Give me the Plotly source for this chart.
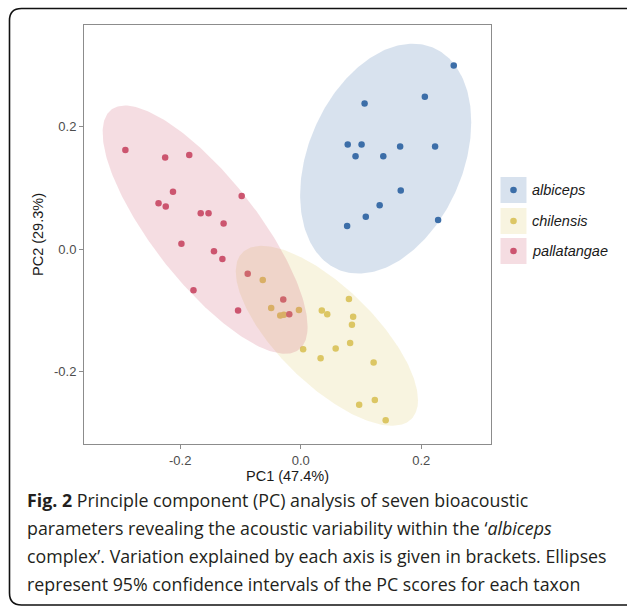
import numpy as np
import plotly.graph_objects as go

# ---------------- data ----------------
SPECIES = ["albiceps", "chilensis", "pallatangae"]
COLORS = ["#3C6EA8", "#DCC665", "#CC5570"]

ALBICEPS_PC1 = [0.254, 0.206, 0.106, 0.078, 0.101, 0.091, 0.137, 0.165, 0.223, 0.166, 0.131, 0.108, 0.077, 0.228]
ALBICEPS_PC2 = [0.300, 0.249, 0.238, 0.171, 0.171, 0.152, 0.152, 0.168, 0.168, 0.096, 0.072, 0.053, 0.038, 0.048]

CHILENSIS_PC1 = [-0.063, -0.049, -0.034, -0.028, -0.003, 0.004, 0.035, 0.044, 0.080, 0.087, 0.085, 0.082, 0.058, 0.033, 0.121, 0.123, 0.097, 0.141]
CHILENSIS_PC2 = [-0.050, -0.096, -0.108, -0.107, -0.099, -0.163, -0.100, -0.106, -0.081, -0.110, -0.123, -0.153, -0.162, -0.178, -0.185, -0.246, -0.254, -0.279]

PALLATANGAE_PC1 = [-0.291, -0.225, -0.185, -0.212, -0.236, -0.224, -0.098, -0.166, -0.153, -0.128, -0.198, -0.144, -0.130, -0.088, -0.178, -0.029, -0.104, -0.019]
PALLATANGAE_PC2 = [0.162, 0.150, 0.154, 0.094, 0.075, 0.070, 0.087, 0.059, 0.059, 0.042, 0.009, -0.003, -0.016, -0.040, -0.067, -0.082, -0.100, -0.106]

# 95% ellipses: centre and shape matrix
ELLIPSE_CX = [0.141, 0.0434, -0.1587]
ELLIPSE_CY = [0.148, -0.1413, 0.032]
ELLIPSE_SXX = [0.02016, 0.02286, 0.02893]
ELLIPSE_SYY = [0.03523, 0.02158, 0.04108]
ELLIPSE_SXY = [0.00845, -0.01588, -0.02694]

X_TICKS = [-0.2, 0.0, 0.2]
Y_TICKS = [-0.2, 0.0, 0.2]
X_TICK_TEXT = ["-0.2", "0.0", "0.2"]
Y_TICK_TEXT = ["-0.2", "0.0", "0.2"]
X_TITLE = "PC1 (47.4%)"
Y_TITLE = "PC2 (29.3%)"

CAPTION = [
    "<b>Fig. 2</b> Principle component (PC) analysis of seven bioacoustic",
    "parameters revealing the acoustic variability within the \u2018<i>albiceps</i>",
    "complex\u2019. Variation explained by each axis is given in brackets. Ellipses",
    "represent 95% confidence intervals of the PC scores for each taxon",
]

# ---------------- layout geometry ----------------
W, H = 627, 607
PL, PR, PT, PB = 84, 491, 25, 444  # panel edges in px
FONT = "Liberation Sans, Arial, sans-serif"


def pxx(px):
    return (px - PL) / (PR - PL)


def pxy(py):
    return (PB - py) / (PB - PT)


def rgba(hexc, a):
    h = hexc.lstrip("#")
    r, g, b = int(h[0:2], 16), int(h[2:4], 16), int(h[4:6], 16)
    return f"rgba({r},{g},{b},{a})"


fig = go.Figure()

pcs = [(ALBICEPS_PC1, ALBICEPS_PC2), (CHILENSIS_PC1, CHILENSIS_PC2), (PALLATANGAE_PC1, PALLATANGAE_PC2)]

# points first
for name, col, (xs, ys) in zip(SPECIES, COLORS, pcs):
    fig.add_trace(go.Scatter(x=xs, y=ys, mode="markers", name=name, showlegend=False,
                             marker=dict(color=col, size=6.5, line=dict(width=0))))

# ellipses over points (as in the reference)
t = np.linspace(0, 2 * np.pi, 241)
for i, col in enumerate(COLORS):
    S = np.array([[ELLIPSE_SXX[i], ELLIPSE_SXY[i]], [ELLIPSE_SXY[i], ELLIPSE_SYY[i]]])
    L = np.linalg.cholesky(S)
    pts = L @ np.vstack([np.cos(t), np.sin(t)])
    fig.add_trace(go.Scatter(x=ELLIPSE_CX[i] + pts[0], y=ELLIPSE_CY[i] + pts[1], mode="lines",
                             fill="toself", fillcolor=rgba(col, 0.2), line=dict(width=0),
                             hoverinfo="skip", showlegend=False))

axis_common = dict(showgrid=False, zeroline=False, showline=True, mirror=True,
                   linecolor="#8C8C8C", linewidth=1, ticks="outside", ticklen=4,
                   tickcolor="#8C8C8C", tickwidth=1,
                   tickfont=dict(family=FONT, size=13, color="#4D4D4D"))

fig.update_xaxes(range=[-0.3597, 0.3158], tickvals=X_TICKS, ticktext=X_TICK_TEXT,
                 title=dict(text=X_TITLE, font=dict(family=FONT, size=14.5, color="#1A1A1A"), standoff=3),
                 **axis_common)
fig.update_yaxes(range=[-0.3179, 0.3662], tickvals=Y_TICKS, ticktext=Y_TICK_TEXT,
                 title=dict(text=Y_TITLE, font=dict(family=FONT, size=14.5, color="#1A1A1A"), standoff=6),
                 **axis_common)

shapes = []
annotations = []

# custom legend: key squares, dots, labels
key_cy = [190, 221, 251]
for name, col, cy in zip(SPECIES, COLORS, key_cy):
    shapes.append(dict(type="rect", xref="paper", yref="paper",
                       x0=pxx(500.5), x1=pxx(526.5), y0=pxy(cy + 13), y1=pxy(cy - 13),
                       fillcolor=rgba(col, 0.2), line=dict(width=0), layer="above"))
    shapes.append(dict(type="circle", xref="paper", yref="paper",
                       x0=pxx(513.5 - 3.3), x1=pxx(513.5 + 3.3), y0=pxy(cy + 3.3), y1=pxy(cy - 3.3),
                       fillcolor=col, line=dict(width=0), layer="above"))
    annotations.append(dict(text=f"<i>{name}</i>", xref="paper", yref="paper",
                            x=pxx(530), y=pxy(cy), xanchor="left", yanchor="middle", showarrow=False,
                            font=dict(family=FONT, size=14.5, color="#1A1A1A")))

# outer rounded frame
x0, x1, y0, y1 = pxx(9.5), pxx(628), pxy(605), pxy(8.5)
rx, ry = 12 / (PR - PL), 12 / (PB - PT)
path = (f"M {x0+rx},{y1} L {x1},{y1} L {x1},{y0} "
        f"L {x0+rx},{y0} Q {x0},{y0} {x0},{y0+ry} L {x0},{y1-ry} Q {x0},{y1} {x0+rx},{y1} Z")
shapes.append(dict(type="path", xref="paper", yref="paper", path=path,
                   line=dict(color="#111111", width=1.6), fillcolor="rgba(0,0,0,0)"))

# caption lines
cap_y = [500, 528, 556, 584]
for line, cy in zip(CAPTION, cap_y):
    annotations.append(dict(text=line, xref="paper", yref="paper", x=pxx(25), y=pxy(cy),
                            xanchor="left", yanchor="middle", showarrow=False,
                            font=dict(family="Open Sans", size=17.8, color="#231F20")))

fig.update_layout(width=W, height=H, margin=dict(l=PL, r=W - PR, t=PT, b=H - PB),
                  plot_bgcolor="white", paper_bgcolor="white", showlegend=False,
                  shapes=shapes, annotations=annotations)

fig.write_html("out.html", config={"displayModeBar": False},
               post_script="document.body.style.margin='0px';document.body.style.overflow='hidden';")
